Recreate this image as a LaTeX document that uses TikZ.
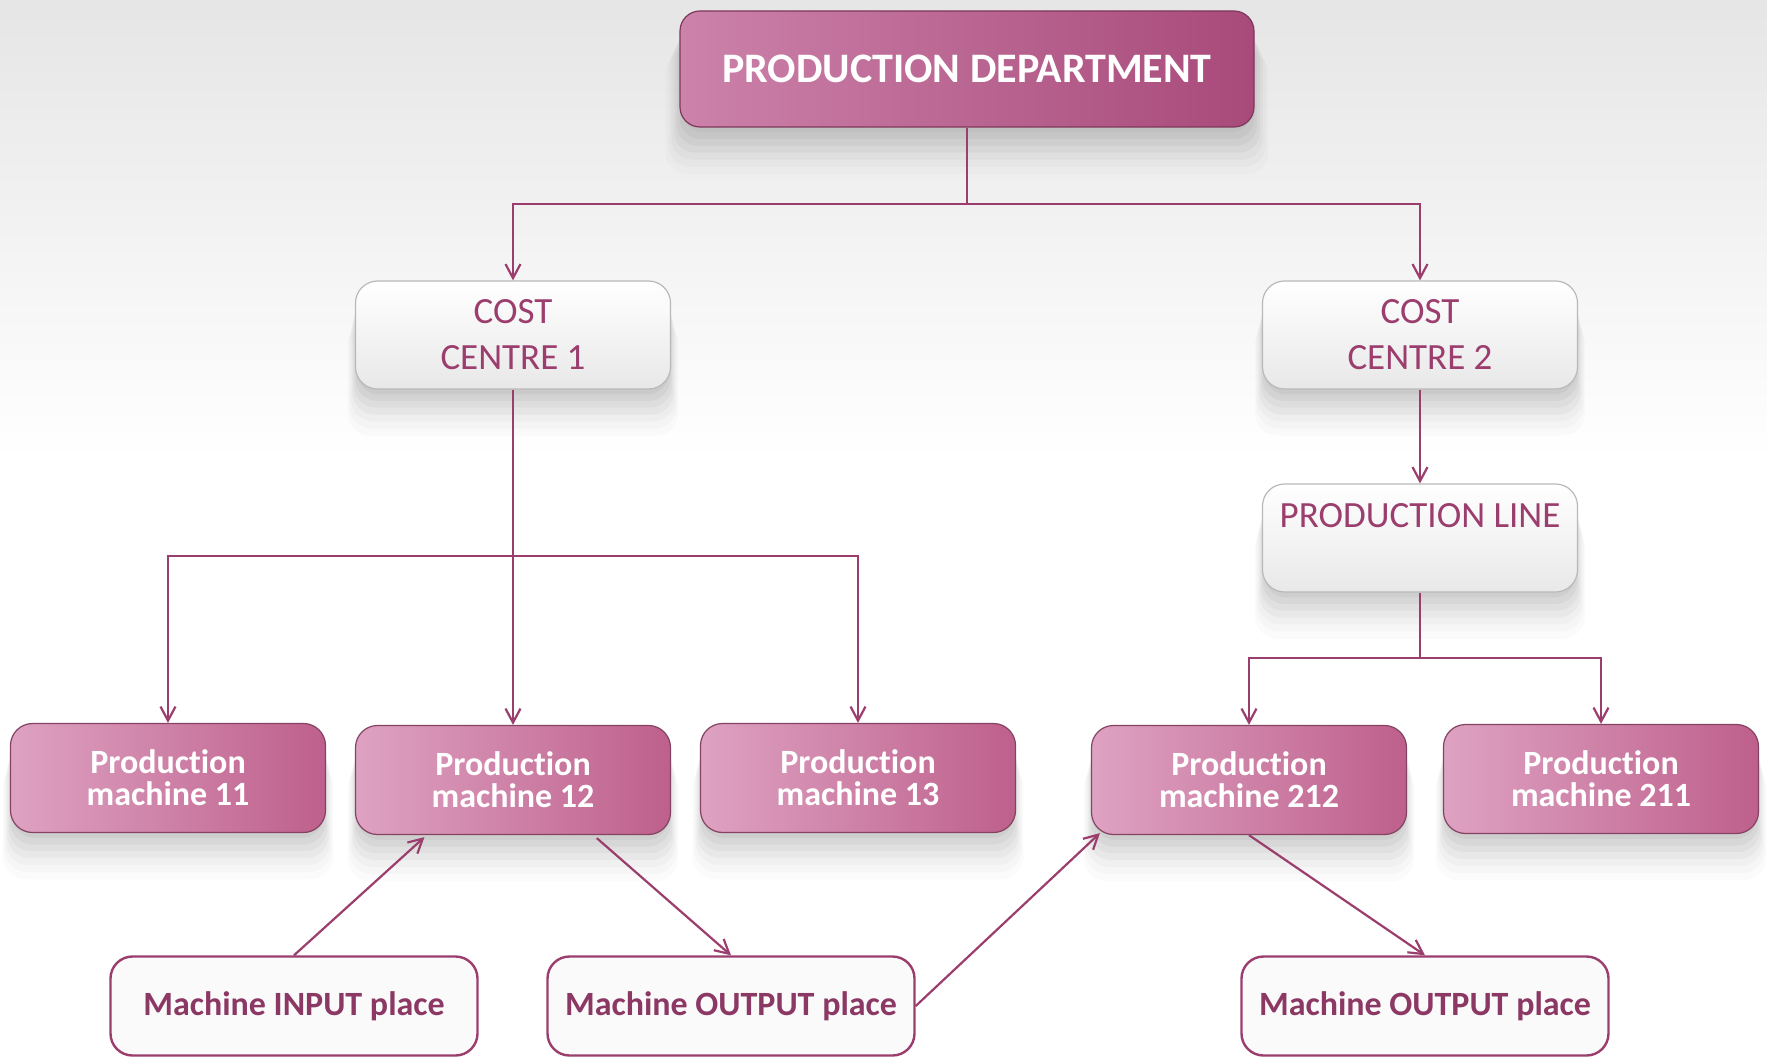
\documentclass[tikz,border=0pt]{standalone}
\usepackage{fontspec}
\setmainfont{Carlito}[Ligatures=NoCommon]
\usetikzlibrary{arrows.meta,shadows,calc}
\definecolor{accent}{RGB}{155,62,110}
\definecolor{accentdark}{RGB}{140,56,100}
\definecolor{toplight}{RGB}{204,130,170}
\definecolor{topdark}{RGB}{168,74,122}
\definecolor{mlight}{RGB}{222,162,194}
\definecolor{mdark}{RGB}{190,96,140}
\begin{document}
\begin{tikzpicture}[x=0.5pt,y=-0.5pt,
  conn/.style={draw=accent, line width=1.1pt},
  arr/.style={conn, -{Straight Barb[length=7pt,width=7.5pt]}},
  softshadow/.style={
    drop shadow={shadow xshift=0pt, shadow yshift=-3pt, opacity=0.035, fill=black, shadow scale=0.99},
    drop shadow={shadow xshift=0pt, shadow yshift=-6pt, opacity=0.035, fill=black, shadow scale=1.00},
    drop shadow={shadow xshift=0pt, shadow yshift=-9pt, opacity=0.03, fill=black, shadow scale=1.01},
    drop shadow={shadow xshift=0pt, shadow yshift=-12pt, opacity=0.03, fill=black, shadow scale=1.02},
    drop shadow={shadow xshift=0pt, shadow yshift=-15pt, opacity=0.025, fill=black, shadow scale=1.03},
    drop shadow={shadow xshift=0pt, shadow yshift=-18pt, opacity=0.02, fill=black, shadow scale=1.04},
    drop shadow={shadow xshift=0pt, shadow yshift=-21pt, opacity=0.015, fill=black, shadow scale=1.05}},
  topbox/.style={softshadow, rounded corners=10pt, left color=toplight, right color=topdark,
    draw=topdark!75!black, line width=0.6pt, text=white, inner sep=0pt,
    font=\bfseries\fontsize{21}{25}\selectfont, minimum width=287pt, minimum height=58pt},
  machbox/.style={softshadow, rounded corners=11pt, left color=mlight, right color=mdark,
    draw=mdark!70!black, line width=0.6pt, text=white, inner sep=0pt, align=center,
    font=\bfseries\fontsize{17}{16}\selectfont, minimum width=157.5pt, minimum height=54.5pt},
  whitebox/.style={softshadow, rounded corners=11pt, top color=white, bottom color=gray!18,
    draw=gray!55, line width=0.6pt, text=accent, inner sep=0pt, align=center,
    font=\fontsize{18.5}{23}\selectfont, minimum width=157.5pt, minimum height=54pt},
  placebox/.style={rounded corners=11pt, fill=gray!4, draw=accent, line width=1.2pt,
    text=accentdark, inner sep=0pt,
    font=\bfseries\fontsize{17}{20}\selectfont, minimum width=183.5pt, minimum height=49.5pt}
]
% background
\useasboundingbox (0,0) rectangle (1767,1059);
\fill[white] (0,0) rectangle (1767,1059);
\shade[top color=gray!20, bottom color=white] (0,0) rectangle (1767,460);

% nodes
\node[topbox] (top) at (967,69) {PRODUCTION DEPARTMENT};
\node[whitebox] (cc1) at (513,335) {COST\\CENTRE 1};
\node[whitebox] (cc2) at (1420,335) {COST\\CENTRE 2};
\node[whitebox] (pl) at (1420,538) {PRODUCTION LINE\\\mbox{}};

\node[machbox] (pm11) at (168,778) {Production\\machine 11};
\node[machbox] (pm12) at (513,780) {Production\\machine 12};
\node[machbox] (pm13) at (858,778) {Production\\machine 13};
\node[machbox] (pm212) at (1249,780) {Production\\machine 212};
\node[machbox] (pm211) at (1601,779) {Production\\machine 211};

\node[placebox] (in) at (294,1006) {Machine INPUT place};
\node[placebox] (out1) at (731,1006) {Machine OUTPUT place};
\node[placebox] (out2) at (1425,1006) {Machine OUTPUT place};

% junctions
\coordinate (j1) at (967,204);
\coordinate (j2) at (513,556);
\coordinate (j3) at (1420,658);

% connectors
\draw[conn] (top.south) -- (j1);
\draw[arr] (j1) -| (cc1.north);
\draw[arr] (j1) -| (cc2.north);

\draw[arr] (cc1.south) -- (pm12.north);
\draw[arr] (j2) -| (pm11.north);
\draw[arr] (j2) -| (pm13.north);

\draw[arr] (cc2.south) -- (pl.north);
\draw[conn] (pl.south) -- (j3);
\draw[arr] (j3) -| (pm212.north);
\draw[arr] (j3) -| (pm211.north);

\draw[arr] (in.north) -- ($(pm12.south)!0.56!(pm12.south west)+(0,2)$);
\draw[arr] ($(pm12.south)!0.53!(pm12.south east)+(0,3)$) -- (out1.north);
\draw[arr] (out1.east) -- ($(pm212.south west)+(9,-2)$);
\draw[arr] (pm212.south) -- (out2.north);
\end{tikzpicture}
\end{document}
